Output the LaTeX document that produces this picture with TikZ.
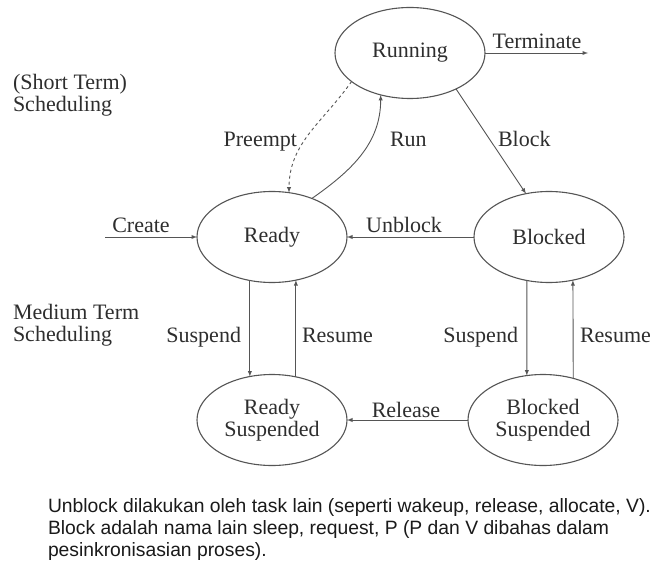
\documentclass[tikz,border=0pt]{standalone}
\usepackage{fontspec}
\setmainfont{Liberation Serif}
\newfontfamily\notefont{Liberation Sans}
\usetikzlibrary{shapes.geometric}
\definecolor{inkgray}{HTML}{2E2E2E}
\definecolor{linegray}{HTML}{555555}
\definecolor{noteink}{HTML}{1A1A1A}

\begin{document}
\begin{tikzpicture}
[every node/.style={inner sep=0pt, outer sep=0pt, text=inkgray},
 state/.style={ellipse, minimum width=150pt, minimum height=91pt, line width=1.1pt, draw=linegray, align=center, font=\fontsize{22}{22}\selectfont},
 lbl/.style={font=\fontsize{22}{22}\selectfont},
 flow/.style={line width=0.9pt, ->, >=latex, color=linegray},
 note/.style={anchor=base west, text=noteink, font=\notefont\fontsize{19.3}{22}\selectfont}]
\fill [white] (0pt, 0pt) rectangle (660pt, -561pt);
\useasboundingbox (0pt, 0pt) rectangle (660pt, -561pt);
\node (running) [state] at (410pt, -53pt) {Running};
\node (ready) [state] at (272pt, -237pt) {Ready};
\node (blocked) [state] at (549pt, -237pt) {Blocked};
\node (readysusp) [state] at (272pt, -420pt) {Ready\\Suspended};
\node (blockedsusp) [state] at (543pt, -420pt) {Blocked\\Suspended};
\coordinate (exit) at (588pt, -53pt);
\coordinate (entry) at (105pt, -237pt);
\draw [flow] (running) -- (exit);
\draw [flow] (entry) -- (ready);
\draw [flow, dashed] (running.206) to [out=235, in=90] (ready.69);
\draw [flow] (ready.44) to [out=35, in=270] (running.235);
\draw [flow] (running.-38) -- (blocked.118);
\draw [flow] (blocked) -- (ready);
\draw [flow] (ready.243) -- (readysusp.117);
\draw [flow] (readysusp.61) -- (ready.299);
\draw [flow] (blocked.243) -- (blockedsusp.110);
\draw [flow] (blockedsusp.54) -- (blocked.299);
\draw [flow] (blockedsusp) -- (readysusp);
\node (terminatelbl) [lbl, anchor=base] at (537pt, -49pt) {Terminate};
\node (preemptlbl) [lbl, anchor=base east] at (297pt, -147pt) {Preempt};
\node (runlbl) [lbl, anchor=base west] at (390pt, -147pt) {Run};
\node (blocklbl) [lbl, anchor=base west] at (498pt, -147pt) {Block};
\node (createlbl) [lbl, anchor=base] at (141pt, -232pt) {Create};
\node (unblocklbl) [lbl, anchor=base] at (404pt, -232pt) {Unblock};
\node (suspendlbl1) [lbl, anchor=base east] at (241pt, -342pt) {Suspend};
\node (resumelbl1) [lbl, anchor=base west] at (302pt, -342pt) {Resume};
\node (suspendlbl2) [lbl, anchor=base east] at (518pt, -342pt) {Suspend};
\node (resumelbl2) [lbl, anchor=base west] at (580pt, -342pt) {Resume};
\node (releaselbl) [lbl, anchor=base] at (406pt, -417pt) {Release};
\node (shortlbl1) [lbl, anchor=base west] at (13pt, -90pt) {(Short Term)};
\node (shortlbl2) [lbl, anchor=base west] at (13pt, -112pt) {Scheduling};
\node (mediumlbl1) [lbl, anchor=base west] at (13pt, -319pt) {Medium Term};
\node (mediumlbl2) [lbl, anchor=base west] at (13pt, -341pt) {Scheduling};
\node (note1) [note] at (48pt, -512pt) {Unblock dilakukan oleh task lain (seperti wakeup, release, allocate, V).};
\node (note2) [note] at (48pt, -534pt) {Block adalah nama lain sleep, request, P (P dan V dibahas dalam};
\node (note3) [note] at (48pt, -556pt) {pesinkronisasian proses).};
\end{tikzpicture}
\end{document}
